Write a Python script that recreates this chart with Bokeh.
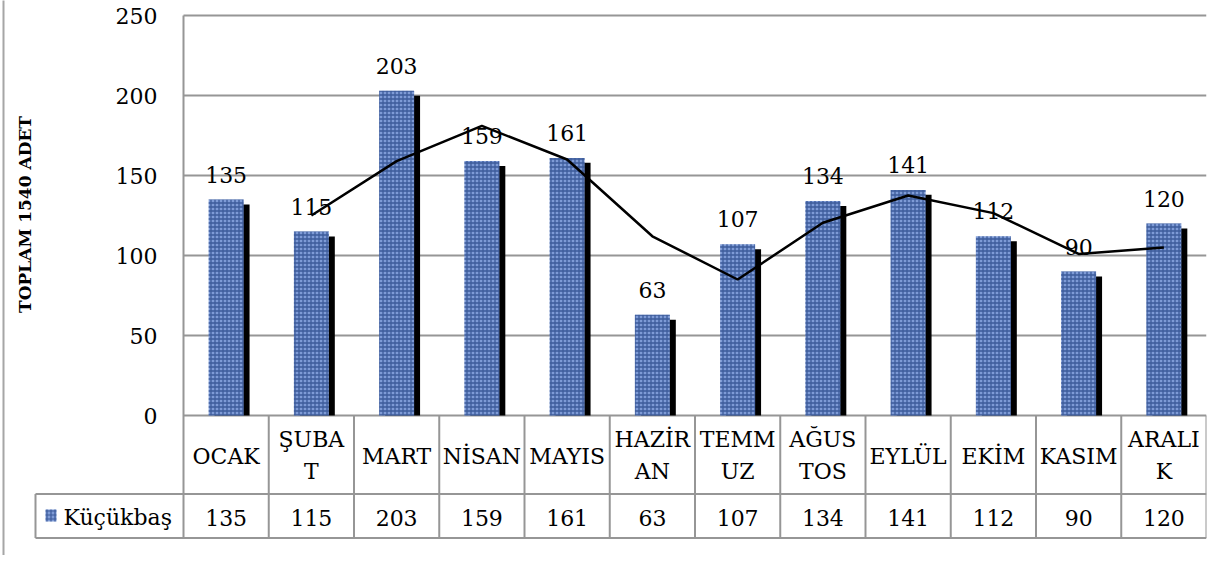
import math
from bokeh.plotting import figure
from bokeh.models import ColumnDataSource, Range1d, FixedTicker
from bokeh.transform import dodge
from bokeh.core.properties import value
from bokeh.embed import file_html
from bokeh.resources import INLINE

# ---------------- data ----------------
months = ["OCAK", "ŞUBAT", "MART", "NİSAN", "MAYIS", "HAZİRAN",
          "TEMMUZ", "AĞUSTOS", "EYLÜL", "EKİM", "KASIM", "ARALIK"]
month_lines = [["OCAK"], ["ŞUBA", "T"], ["MART"], ["NİSAN"], ["MAYIS"],
               ["HAZİR", "AN"], ["TEMM", "UZ"], ["AĞUS", "TOS"], ["EYLÜL"],
               ["EKİM"], ["KASIM"], ["ARALI", "K"]]
counts = [135, 115, 203, 159, 161, 63, 107, 134, 141, 112, 90, 120]
trend_months = ["ŞUBAT", "MART", "NİSAN", "MAYIS", "HAZİRAN", "TEMMUZ",
                "AĞUSTOS", "EYLÜL", "EKİM", "KASIM", "ARALIK"]
trend_values = [125, 159, 181, 160, 112, 85, 120.5, 137.5, 126.5, 101, 105]
series_name = "Küçükbaş"
y_title = "TOPLAM  1540 ADET"
y_ticks = [0, 50, 100, 150, 200, 250]

# ---------------- style ----------------
FONT = "DejaVu Serif"
FS = "22px"
GRID = "#969696"
BORDER = "#a6a6a6"
BAR = "#7e9bd6"
HATCH = "#1f3f80"

W, H = 1218, 555
PX_PER_UNIT = 1.6      # vertical scale: 50 units = 80 px
CAT_PX = 85.25         # width of one month column
ZERO_PY = 415          # canvas y of the zero line
AREA_PX = 183          # canvas x of the left edge of the plot area
FRAME_L, FRAME_R = 3, 1206


def sx(px):
    return (px - AREA_PX) / CAT_PX


def sy(py):
    return (ZERO_PY - py) / PX_PER_UNIT


n = len(months)
idx = {m: i + 0.5 for i, m in enumerate(months)}
xs = [idx[m] for m in months]
txs = [idx[m] for m in trend_months]

p = figure(width=W, height=H, output_backend="svg", toolbar_location=None,
           x_range=Range1d(sx(FRAME_L), sx(FRAME_R)),
           y_range=Range1d(sy(H), sy(0)), x_axis_location=None,
           min_border_left=FRAME_L, min_border_right=W - FRAME_R,
           min_border_top=0, min_border_bottom=0)
p.outline_line_color = None
p.background_fill_color = "white"
p.border_fill_color = "white"
p.xgrid.visible = False
p.ygrid.visible = False

# y axis: its line is the chart's left border, its labels sit left of the plot area
ax = p.yaxis[0]
ax.ticker = FixedTicker(ticks=y_ticks)
ax.axis_line_color = BORDER
ax.axis_line_width = 2
ax.major_tick_line_color = None
ax.minor_tick_line_color = None
ax.major_tick_out = 0
ax.major_tick_in = 0
ax.major_label_standoff = -(157 - FRAME_L)
ax.major_label_text_font = FONT
ax.major_label_text_font_size = FS
ax.major_label_text_color = "black"

# horizontal grid lines across the plot area only
p.segment(x0=[0] * len(y_ticks), x1=[n] * len(y_ticks), y0=y_ticks, y1=y_ticks,
          line_color=GRID, line_width=2)

src = ColumnDataSource(dict(x=xs, count=counts, label=[str(v) for v in counts]))

# shadow bars
p.vbar(x=dodge("x", 0.07), top=dodge("count", -3.1), bottom=0, width=0.41,
       source=src, fill_color="black", line_color=None)
# bars
p.vbar(x="x", top="count", bottom=0, width=0.41, source=src,
       fill_color=BAR, line_color=None, hatch_pattern="cross",
       hatch_color=HATCH, hatch_alpha=0.7, hatch_scale=4, hatch_weight=1.3)

# trend line
p.line(x=txs, y=trend_values, line_color="black", line_width=2.5)

# data labels
p.text(x="x", y="count", text="label", source=src, y_offset=-25,
       text_align="center", text_baseline="middle", text_font=value(FONT),
       text_font_size=FS, text_color="black")

# ---------------- data table ----------------
row1_bot = sy(493.5)
row2_bot = sy(537.5)
# plot-area left edge + column separators
p.segment(x0=[0], x1=[0], y0=[y_ticks[-1]], y1=[row2_bot], line_color=GRID,
          line_width=2)
p.segment(x0=list(range(1, n + 1)), y0=[0] * n, x1=list(range(1, n + 1)),
          y1=[row2_bot] * n, line_color=GRID, line_width=2)
# row rules (including the legend cell)
leg_l = sx(35)
p.segment(x0=[leg_l, leg_l], y0=[row1_bot, row2_bot], x1=[n, n],
          y1=[row1_bot, row2_bot], line_color=GRID, line_width=2)
p.segment(x0=[leg_l], x1=[leg_l], y0=[row1_bot], y1=[row2_bot],
          line_color=GRID, line_width=2)

hx, hy, ht = [], [], []
for m, lines in zip(months, month_lines):
    ys = [sy(456)] if len(lines) == 1 else [sy(439), sy(471)]
    for t, yy in zip(lines, ys):
        hx.append(idx[m]); hy.append(yy); ht.append(t)
p.text(x=hx, y=hy, text=ht, text_align="center", text_baseline="middle",
       text_font=value(FONT), text_font_size=FS, text_color="black")

vy = sy(517)
p.text(x=xs, y=[vy] * n, text=[str(v) for v in counts],
       text_align="center", text_baseline="middle", text_font=value(FONT),
       text_font_size=FS, text_color="black")

# legend key + series name
p.quad(left=[sx(45)], right=[sx(56)], top=[sy(509)], bottom=[sy(521)],
       fill_color=BAR, line_color=None, hatch_pattern="cross",
       hatch_color=HATCH, hatch_alpha=0.7, hatch_scale=4, hatch_weight=1.2)
p.text(x=[sx(63)], y=[vy], text=[series_name], text_align="left",
       text_baseline="middle", text_font=value(FONT), text_font_size=FS,
       text_color="black")

# y axis title
p.text(x=[sx(24)], y=[sy(211)], text=[y_title], angle=math.pi / 2,
       text_align="center", text_baseline="middle",
       text_font=value("DejaVu Serif"), text_font_style="bold",
       text_font_size="17px", text_color="black")

open("out.html", "w").write(file_html(p, INLINE))
